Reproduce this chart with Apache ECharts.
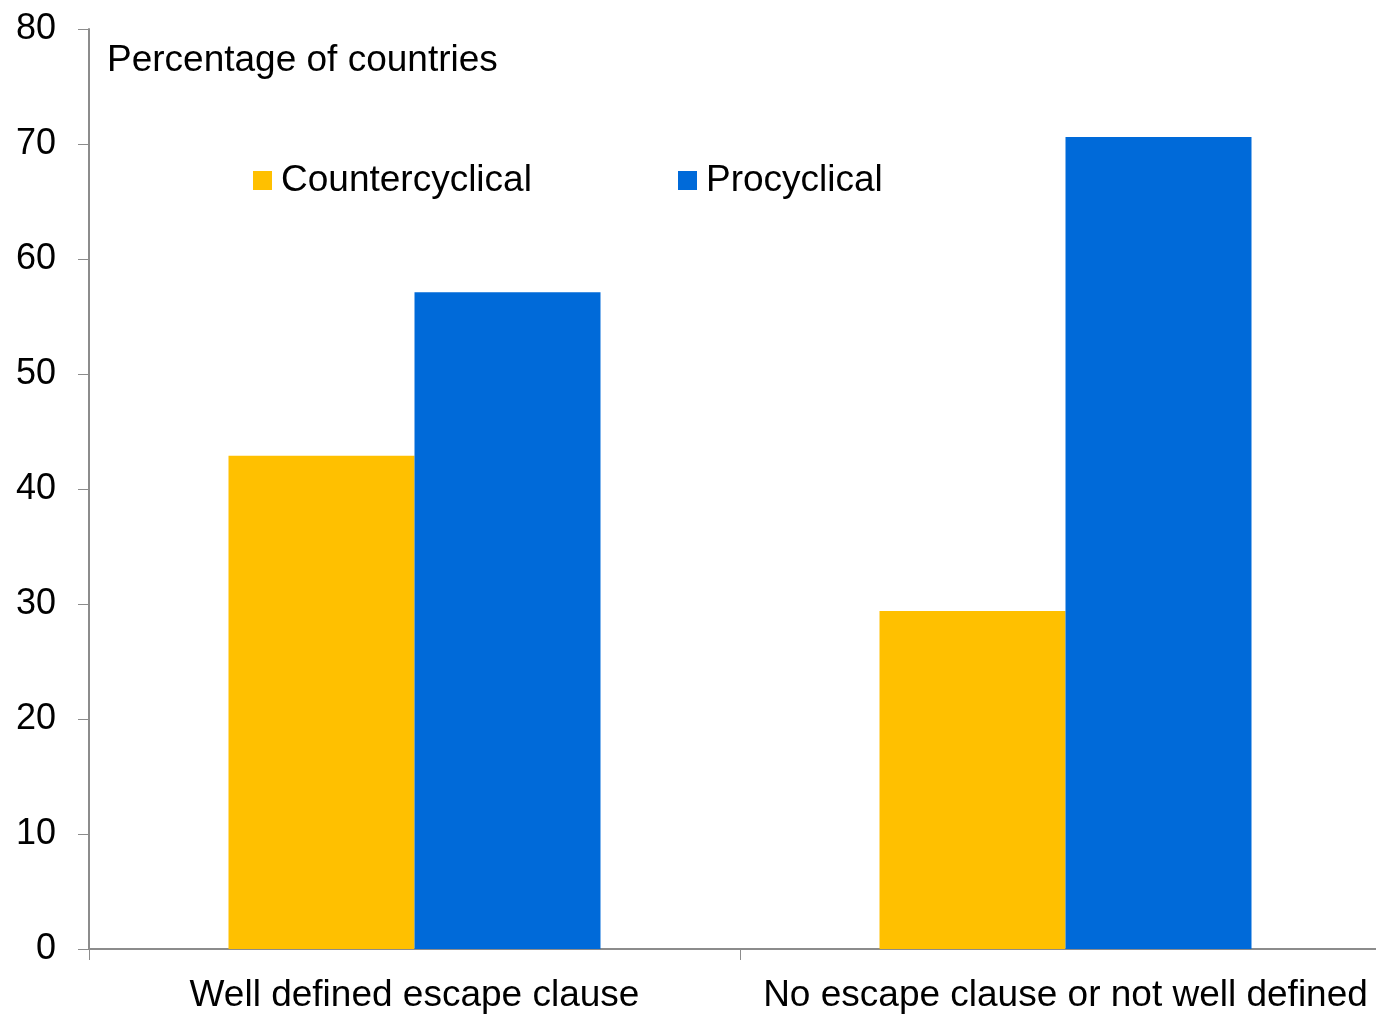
<!DOCTYPE html>
<html>
<head>
<meta charset="utf-8">
<script src="https://cdn.jsdelivr.net/npm/echarts@6/dist/echarts.min.js"></script>
<style>
  html, body { margin: 0; padding: 0; background: #fff; overflow: hidden; }
  /* the plot area runs a little past the right edge of the picture */
  #chart { width: 1391px; height: 1014px; }
</style>
</head>
<body>
<div id="chart"></div>
<script>
// categories and values
var categories = ['Well defined escape clause', 'No escape clause or not well defined'];
var countercyclical = [42.9, 29.4];
var procyclical = [57.1, 70.6];
var yTicks = [0, 80, 10]; // min, max, step

var fontFam = 'Liberation Sans, Arial, sans-serif';
var axisGrey = '#8c8c8c';

var myChart = echarts.init(document.getElementById('chart'));

var option = {
    backgroundColor: '#fff',
    animation: false,
    textStyle: { fontFamily: fontFam, color: '#000' },
    title: {
        text: 'Percentage of countries',
        left: 107,
        top: 42,
        padding: 0,
        textStyle: { fontFamily: fontFam, fontSize: 37, fontWeight: 'normal', color: '#000' }
    },
    legend: [
        {
            data: ['Countercyclical'],
            left: 253, top: 162,
            padding: 0,
            icon: 'rect', itemWidth: 19, itemHeight: 19,
            textStyle: { fontFamily: fontFam, fontSize: 37, color: '#000', padding: [0, 0, 0, 4] }
        },
        {
            data: ['Procyclical'],
            left: 678, top: 162,
            padding: 0,
            icon: 'rect', itemWidth: 19, itemHeight: 19,
            textStyle: { fontFamily: fontFam, fontSize: 37, color: '#000', padding: [0, 0, 0, 4] }
        }
    ],
    grid: { left: 89, top: 29, bottom: 65, right: 0, containLabel: false },
    xAxis: {
        type: 'category',
        data: categories,
        boundaryGap: true,
        axisLine: { lineStyle: { color: axisGrey, width: 2 } },
        axisTick: { show: true, length: 11, alignWithLabel: false, lineStyle: { color: axisGrey, width: 1 } },
        axisLabel: { fontFamily: fontFam, fontSize: 37, color: '#000', margin: 28, interval: 0 },
        splitLine: { show: false }
    },
    yAxis: {
        type: 'value',
        min: yTicks[0], max: yTicks[1], interval: yTicks[2],
        axisLine: { show: true, lineStyle: { color: axisGrey, width: 2 } },
        axisTick: { show: true, length: 11, lineStyle: { color: axisGrey, width: 1 } },
        axisLabel: { fontFamily: fontFam, fontSize: 36, color: '#000', margin: 33 },
        splitLine: { show: false }
    },
    series: [
        {
            name: 'Countercyclical',
            type: 'bar',
            data: countercyclical,
            barWidth: 186,
            barGap: '0%',
            itemStyle: { color: '#FFC000' }
        },
        {
            name: 'Procyclical',
            type: 'bar',
            data: procyclical,
            barWidth: 186,
            barGap: '0%',
            itemStyle: { color: '#006AD9' }
        }
    ]
};
myChart.setOption(option);
</script>
</body>
</html>
